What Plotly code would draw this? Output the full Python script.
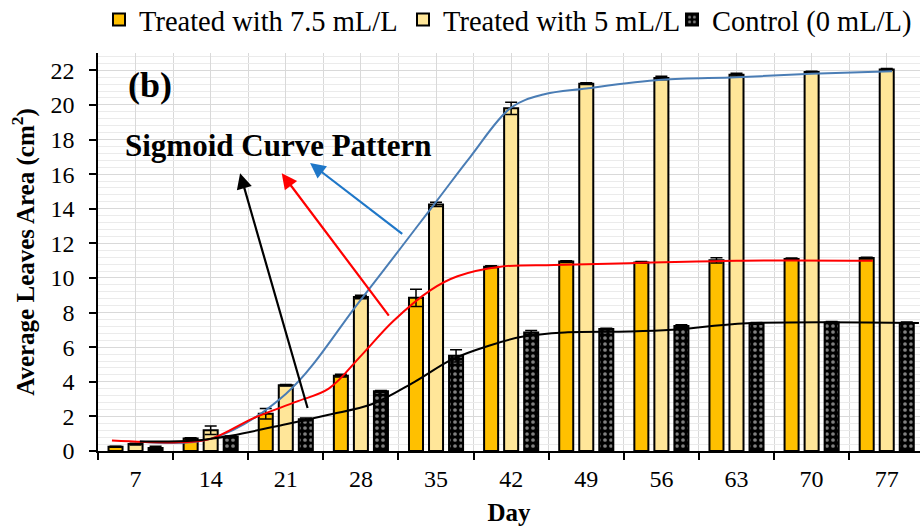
import plotly.graph_objects as go

days = [7, 14, 21, 28, 35, 42, 49, 56, 63, 70, 77]
day_labels = [str(d) for d in days]

treated_75 = [0.25, 0.72, 2.15, 4.35, 8.85, 10.65, 10.95, 10.9, 11.02, 11.1, 11.15]
treated_75_err = [0.03, 0.05, 0.3, 0.08, 0.5, 0.05, 0.05, 0.05, 0.15, 0.05, 0.05]
treated_5 = [0.4, 1.2, 3.8, 8.9, 14.25, 19.8, 21.23, 21.55, 21.75, 21.9, 22.05]
treated_5_err = [0.05, 0.25, 0.05, 0.1, 0.12, 0.35, 0.05, 0.1, 0.08, 0.05, 0.05]
control = [0.18, 0.82, 1.83, 3.45, 5.5, 6.85, 7.05, 7.22, 7.37, 7.43, 7.4]
control_err = [0.1, 0.05, 0.08, 0.05, 0.35, 0.12, 0.05, 0.08, 0.05, 0.05, 0.05]

# sigmoid trend curves
blue_x = [7.4, 14, 21, 28, 35, 38.2, 42, 45, 49, 56, 63, 70, 77.5]
blue_y = [0.55, 0.7, 3.3, 8.75, 14.4, 17.0, 19.85, 20.6, 20.95, 21.45, 21.6, 21.8, 21.95]
red_x = [4.8, 11, 14, 18, 22, 25, 28, 31, 34.5, 37, 41, 46, 53, 63, 75.7]
red_y = [0.6, 0.5, 0.7, 1.9, 2.85, 3.6, 5.5, 7.5, 9.3, 10.1, 10.65, 10.75, 10.85, 11.0, 11.0]
black_x = [7.4, 12.5, 16, 21, 25, 29, 33, 36.5, 40, 43, 47, 53, 57, 64, 80]
black_y = [0.55, 0.6, 0.9, 1.55, 2.1, 2.7, 4.0, 5.3, 6.1, 6.6, 6.85, 6.9, 7.0, 7.38, 7.4]

boundaries = [d - 3.5 for d in days] + [days[-1] + 3.5]

FONT = "Liberation Serif, 'Times New Roman', Times, serif"

fig = go.Figure()

def err(arr):
    return dict(type="data", array=arr, visible=True, color="black", thickness=1.5, width=6)

fig.add_trace(go.Bar(
    x=days, y=treated_75, name="Treated with 7.5 mL/L", legend="legend",
    marker=dict(color="#FFC000", line=dict(color="black", width=2)),
    error_y=err(treated_75_err)))
fig.add_trace(go.Bar(
    x=days, y=treated_5, name="Treated with 5 mL/L", legend="legend2",
    marker=dict(color="#FFE699", line=dict(color="black", width=2)),
    error_y=err(treated_5_err)))
fig.add_trace(go.Bar(
    x=days, y=control, name="Control (0 mL/L)", legend="legend3",
    marker=dict(color="black", line=dict(color="black", width=2),
                pattern=dict(shape=".", fgcolor="white", bgcolor="black", size=6, solidity=0.3)),
    error_y=err(control_err)))

fig.add_trace(go.Scatter(x=blue_x, y=blue_y, mode="lines", showlegend=False,
                         line=dict(color="#4A7DB5", width=2, shape="spline", smoothing=1.0)))
fig.add_trace(go.Scatter(x=red_x, y=red_y, mode="lines", showlegend=False,
                         line=dict(color="#FF0000", width=2, shape="spline", smoothing=1.0)))
fig.add_trace(go.Scatter(x=black_x, y=black_y, mode="lines", showlegend=False,
                         line=dict(color="black", width=2, shape="spline", smoothing=1.0)))

# arrows: (head_x, head_y, tail_x, tail_y, color)
arrows = [
    (23.26, 16.64, 32.27, 12.35, "#1F77C8"),
    (20.62, 16.05, 31.02, 7.48, "#FF0000"),
    (16.74, 16.05, 23.42, 1.65, "black"),
]
for hx, hy, tx, ty, c in arrows:
    fig.add_annotation(x=hx, y=hy, ax=tx, ay=ty, xref="x", yref="y", axref="x", ayref="y",
                       showarrow=True, arrowhead=2, arrowsize=1.4, arrowwidth=2.2,
                       arrowcolor=c, text=" ")

fig.add_annotation(x=8.35, y=21.15, xref="x", yref="y", text="<b>(b)</b>", showarrow=False,
                   font=dict(family=FONT, size=36, color="black"))
fig.add_annotation(x=20.28, y=17.65, xref="x", yref="y", text="<b>Sigmoid Curve Pattern</b>",
                   showarrow=False, font=dict(family=FONT, size=31, color="black"))

LEG_FONT = dict(family=FONT, size=28.5, color="black")
def leg(px):
    return dict(orientation="h", x=(px - 98) / 822.0, xanchor="left", y=1.083, yanchor="middle",
                font=LEG_FONT, bgcolor="rgba(0,0,0,0)")

fig.update_layout(
    width=920, height=527,
    margin=dict(l=98, r=0, t=52.7, b=75.5, autoexpand=False),
    paper_bgcolor="white", plot_bgcolor="white",
    barmode="group", bargap=0.2, bargroupgap=0.3,
    font=dict(family=FONT, size=24, color="black"),
    legend=leg(99), legend2=leg(403), legend3=leg(672),
    xaxis=dict(
        range=[3.5, 80.1], tickmode="array", tickvals=days, ticktext=day_labels,
        ticks="", showgrid=True, gridcolor="#d9d9d9", gridwidth=1,
        showline=True, linecolor="black", linewidth=1.5, zeroline=False,
        ticklabelstandoff=5,
        minor=dict(tickmode="array", tickvals=boundaries, ticks="outside", ticklen=7,
                   tickcolor="black", tickwidth=1.5, showgrid=True, gridcolor="#d9d9d9"),
        title=dict(text="<b>Day</b>", font=dict(family=FONT, size=25), standoff=13),
        tickfont=dict(family=FONT, size=24, color="black"), automargin=False),
    yaxis=dict(
        range=[0, 23], tick0=0, dtick=2, ticks="outside", ticklen=7, tickwidth=1.5,
        tickcolor="black", showgrid=True, gridcolor="#d9d9d9", gridwidth=1,
        showline=True, linecolor="black", linewidth=1.5, zeroline=False,
        ticklabelstandoff=10,
        minor=dict(dtick=0.4, showgrid=True, gridcolor="#ebebeb"),
        title=dict(text="<b>Average Leaves Area (cm<sup>2</sup>)</b>",
                   font=dict(family=FONT, size=25), standoff=9),
        tickfont=dict(family=FONT, size=24, color="black"), automargin=False),
)

fig.write_html("out.html")
